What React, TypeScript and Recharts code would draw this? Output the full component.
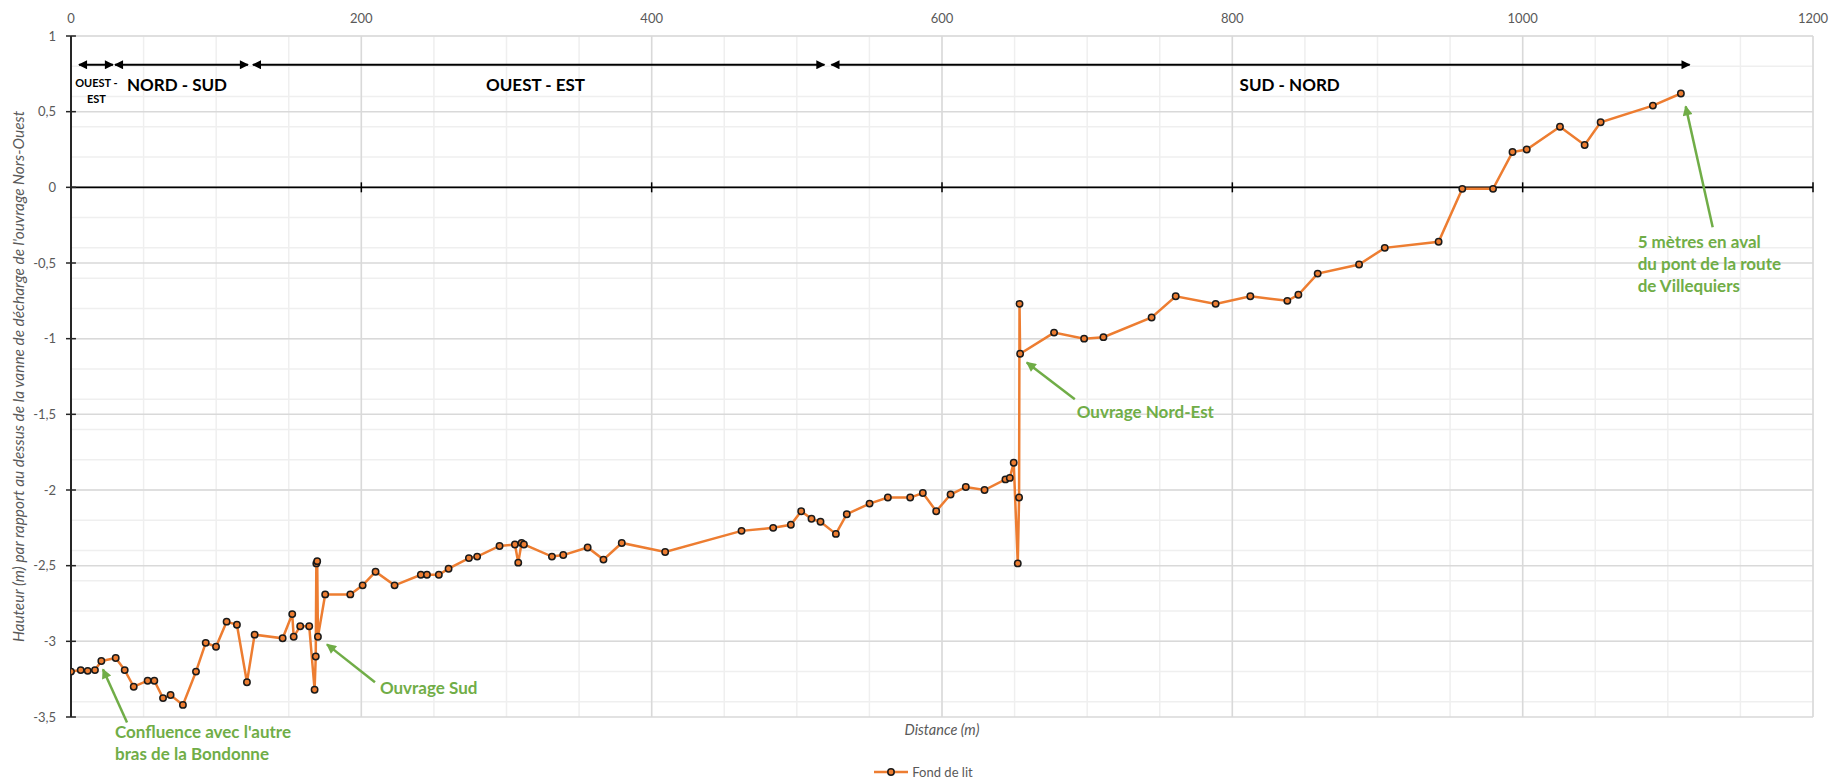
import {
  LineChart, Line, XAxis, YAxis, CartesianGrid, ReferenceLine, ReferenceDot, Legend
} from 'recharts'

// distance along the river bed (m)
const distance = [
  0, 6.7, 11.5, 16.5, 20.9, 30.8, 37, 43.2, 52.8, 57.4, 63.4, 68.6, 77.1, 86.1, 92.8, 99.9,
  107.2, 114.3, 121.2, 126.5, 145.8, 152.4, 153.4, 157.9, 164.1, 167.8, 168.6, 169, 169.6, 170.1,
  175.1, 192.4, 200.9, 209.8, 222.9, 241, 245.2, 253.4, 260.1, 274.1, 279.8, 295.2, 305.8, 308.1,
  310.4, 312, 331.3, 339.1, 355.9, 366.8, 379.4, 409.3, 461.9, 483.7, 495.9, 503, 510.1, 516.3,
  526.9, 534.4, 550.1, 562.7, 578.1, 586.8, 596, 605.9, 616.4, 629.3, 643.7, 646.7, 649.4, 652.2,
  653.1, 653.4, 653.8, 677.2, 697.9, 711.2, 744.4, 761, 788.5, 812.4, 837.9, 845.5, 858.8, 887.3,
  905, 942.1, 958.4, 979.6, 993, 1002.8, 1025.7, 1042.7, 1053.7, 1089.7, 1109,
]

// bed height (m) relative to the Nord-Ouest gate
const fondDeLit = [
  -3.2, -3.19, -3.195, -3.19, -3.13, -3.11, -3.19, -3.3, -3.26, -3.26, -3.375, -3.355, -3.42, -3.2,
  -3.01, -3.036, -2.87, -2.89, -3.27, -2.956, -2.98, -2.82, -2.97, -2.9, -2.9, -3.32, -3.1, -2.485,
  -2.47, -2.97, -2.69, -2.69, -2.63, -2.54, -2.63, -2.56, -2.56, -2.56, -2.52, -2.45, -2.44, -2.37,
  -2.36, -2.48, -2.35, -2.36, -2.44, -2.43, -2.38, -2.46, -2.35, -2.41, -2.27, -2.25, -2.23, -2.14,
  -2.19, -2.21, -2.29, -2.16, -2.09, -2.05, -2.05, -2.02, -2.14, -2.03, -1.98, -2.0, -1.93, -1.92,
  -1.82, -2.485, -2.05, -0.77, -1.1, -0.96, -1.0, -0.99, -0.86, -0.72, -0.77, -0.72, -0.75, -0.71,
  -0.57, -0.51, -0.4, -0.36, -0.01, -0.01, 0.233, 0.25, 0.4, 0.28, 0.43, 0.54, 0.62,
]

const xTicks = [0, 200, 400, 600, 800, 1000, 1200]
const yTicks = [-3.5, -3, -2.5, -2, -1.5, -1, -0.5, 0, 0.5, 1]

const data = distance.map((d, i) => ({ distance: d, fond: fondDeLit[i] }))

const minorX: number[] = []
for (let v = 0; v <= 1200; v += 50) minorX.push(v)
const minorY: number[] = []
for (let i = -35; i <= 10; i++) minorY.push(i / 10)

const ORANGE = '#ED7D31'
const GREEN = '#70AD47'
const GREY = '#595959'
const FONT = 'Lato, "Open Sans", sans-serif'

// river sections shown with double arrows at the top
const sections = [
  { from: 5.5, to: 28.9, lines: ['OUEST -', 'EST'], at: 17.5, size: 11 },
  { from: 30.3, to: 121.9, lines: ['NORD - SUD'], at: 73, size: 17 },
  { from: 125.3, to: 519, lines: ['OUEST - EST'], at: 320, size: 17 },
  { from: 523.8, to: 1115, lines: ['SUD - NORD'], at: 839.5, size: 17 },
]

// green call-outs
const notes = [
  { lines: ['Confluence avec l\'autre', 'bras de la Bondonne'], x: 30.3, y: -3.595, ax: 38.6, ay: -3.536, bx: 22, by: -3.185 },
  { lines: ['Ouvrage Sud'], x: 212.8, y: -3.3, ax: 209.4, ay: -3.27, bx: 176.3, by: -3.02 },
  { lines: ['Ouvrage Nord-Est'], x: 692.8, y: -1.48, ax: 691.5, ay: -1.4, bx: 658.4, by: -1.157 },
  { lines: ['5 mètres en aval', 'du pont de la route', 'de Villequiers'], x: 1079.2, y: -0.357, ax: 1130.9, ay: -0.264, bx: 1112.3, by: 0.535 },
]

const textLabel = (lines: string[], opts: any) => (props: any) => {
  const vb = props.viewBox || {}
  const x = (vb.x ?? 0) + (vb.width ?? 0) / 2
  const y = (vb.y ?? 0) + (vb.height ?? 0) / 2
  return (
    <text
      x={x} y={y}
      fill={opts.fill}
      fontSize={opts.size}
      fontWeight={opts.weight}
      fontStyle={opts.style}
      textAnchor={opts.anchor}
      dominantBaseline="central"
      fontFamily={FONT}
    >
      {lines.map((l, i) => (
        <tspan key={i} x={x} dy={i === 0 ? 0 : opts.lh}>{l}</tspan>
      ))}
    </text>
  )
}

const arrowShape = (marker: string, double: boolean, color: string, width: number) => (p: any) => (
  <line
    x1={p.x1} y1={p.y1} x2={p.x2} y2={p.y2}
    stroke={color} strokeWidth={width}
    markerEnd={`url(#${marker})`}
    markerStart={double ? `url(#${marker})` : undefined}
  />
)

const LegendContent = () => (
  <div style={{ display: 'flex', justifyContent: 'center', alignItems: 'center', fontFamily: FONT, fontSize: 13, color: GREY }}>
    <svg width={34} height={10}>
      <line x1={0} y1={5} x2={34} y2={5} stroke={ORANGE} strokeWidth={2.5} />
      <circle cx={17} cy={5} r={3.2} fill={ORANGE} stroke="#1a1a1a" strokeWidth={1.5} />
    </svg>
    <span style={{ marginLeft: 4 }}>Fond de lit</span>
  </div>
)

export default function App() {
  return (
    <div style={{ position: 'fixed', left: 0, top: 0, width: 1847, height: 782, background: '#fff', fontFamily: FONT }}>
      <LineChart width={1847} height={782} data={data} margin={{ top: 6, right: 34, bottom: 65, left: 0 }}>
        <defs>
          <marker id="blackHead" viewBox="0 0 10 10" refX="9" refY="5" markerWidth="11" markerHeight="9"
            markerUnits="userSpaceOnUse" orient="auto-start-reverse">
            <path d="M0,0 L10,5 L0,10 z" fill="#000" />
          </marker>
          <marker id="greenHead" viewBox="0 0 10 10" refX="9" refY="5" markerWidth="13" markerHeight="10"
            markerUnits="userSpaceOnUse" orient="auto-start-reverse">
            <path d="M0,0 L10,5 L0,10 z" fill={GREEN} />
          </marker>
        </defs>
        <CartesianGrid stroke="#EFEFEF" strokeWidth={1.5} horizontalValues={minorY} verticalValues={minorX} />
        <CartesianGrid stroke="#D9D9D9" strokeWidth={1.5} horizontalValues={yTicks} verticalValues={xTicks} />
        <XAxis
          dataKey="distance" type="number" orientation="top" domain={[0, 1200]} ticks={xTicks}
          height={30} axisLine={false} tickLine={false} tickSize={6} tickMargin={7}
          tick={{ fill: GREY, fontSize: 13 }} allowDataOverflow
        />
        <YAxis
          type="number" domain={[-3.5, 1]} ticks={yTicks} width={71}
          tickFormatter={(v: number) => String(v).replace('.', ',')}
          axisLine={{ stroke: '#262626', strokeWidth: 2 }}
          tickLine={{ stroke: '#262626', strokeWidth: 1.5 }} tickSize={5} tickMargin={10}
          tick={{ fill: GREY, fontSize: 13 }}
          label={{
            value: 'Hauteur (m) par rapport au dessus de la vanne de décharge de l\'ouvrage Nors-Ouest',
            angle: -90, position: 'center', dx: -17, fill: GREY, fontSize: 15.4, fontStyle: 'italic',
          }}
        />
        <ReferenceLine y={0} stroke="#000" strokeWidth={1.75} />
        {xTicks.slice(1).map((t) => (
          <ReferenceLine key={'xt' + t} segment={[{ x: t, y: -0.033 }, { x: t, y: 0.033 }]} stroke="#000" strokeWidth={1.5} />
        ))}
        {yTicks.map((t) => (
          <ReferenceLine key={'yt' + t} segment={[{ x: 0, y: t }, { x: 3.4, y: t }]} stroke="#262626" strokeWidth={1.5} />
        ))}

        {sections.map((s, i) => (
          <ReferenceLine
            key={'sa' + i}
            segment={[{ x: s.from, y: 0.81 }, { x: s.to, y: 0.81 }]}
            ifOverflow="visible"
            shape={arrowShape('blackHead', true, '#000', 2)}
          />
        ))}
        {sections.map((s, i) => (
          <ReferenceDot
            key={'sl' + i}
            x={s.at} y={s.lines.length > 1 ? 0.694 : 0.684} r={0} ifOverflow="visible"
            label={{ content: textLabel(s.lines, { fill: '#000', size: s.size, weight: 700, anchor: 'middle', lh: 16 }) }}
          />
        ))}

        <Line
          type="linear" dataKey="fond" name="Fond de lit" stroke={ORANGE} strokeWidth={2.5}
          dot={{ r: 3.2, fill: ORANGE, stroke: '#1a1a1a', strokeWidth: 1.5 }}
          activeDot={false} isAnimationActive={false}
        />

        {notes.map((n, i) => (
          <ReferenceLine
            key={'na' + i}
            segment={[{ x: n.ax, y: n.ay }, { x: n.bx, y: n.by }]}
            ifOverflow="visible"
            shape={arrowShape('greenHead', false, GREEN, 2.5)}
          />
        ))}
        {notes.map((n, i) => (
          <ReferenceDot
            key={'nt' + i}
            x={n.x} y={n.y} r={0} ifOverflow="visible"
            label={{ content: textLabel(n.lines, { fill: GREEN, size: 17, weight: 700, anchor: 'start', lh: 22 }) }}
          />
        ))}
        <ReferenceDot
          x={600} y={-3.582} r={0} ifOverflow="visible"
          label={{ content: textLabel(['Distance (m)'], { fill: GREY, size: 14.5, style: 'italic', anchor: 'middle', lh: 0 }) }}
        />

        <Legend
          verticalAlign="middle" align="center" layout="horizontal"
          wrapperStyle={{ top: 764, left: 0, width: 1847 }}
          content={<LegendContent />}
        />
      </LineChart>
    </div>
  )
}
